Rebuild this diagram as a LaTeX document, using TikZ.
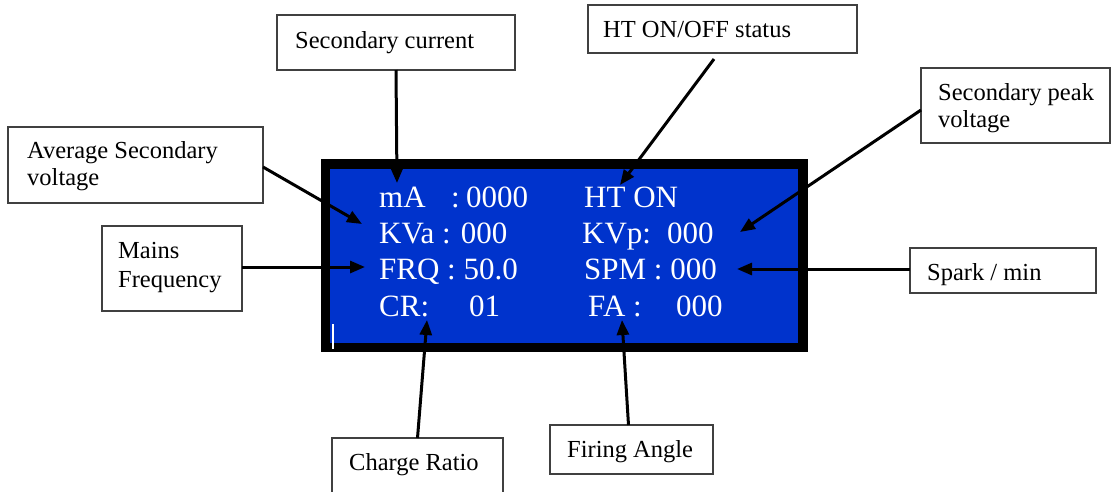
\documentclass[tikz,border=0pt]{standalone}
\usepackage{fontspec}
\setmainfont{Liberation Serif}
\usetikzlibrary{arrows.meta}
\definecolor{lcdblue}{RGB}{0,51,204}
\begin{document}
\begin{tikzpicture}[x=1pt,y=-1pt,
  lbox/.style={draw=black!75, line width=1.3pt, fill=white, inner sep=0pt, outer sep=0pt, anchor=north west},
  lbl/.style={anchor=base west, inner sep=0pt, align=left, font=\fontsize{24.5}{27}\selectfont},
  lcdtxt/.style={anchor=base west, inner sep=0pt, text=white, font=\fontsize{31}{36}\selectfont},
  arr/.style={line width=3pt, -{Triangle[length=15pt,width=12pt]}}]
\useasboundingbox (0,0) rectangle (1112,491);

% LCD
\node[draw=black, fill=lcdblue, line width=9.5pt, inner sep=0pt, outer sep=0pt, anchor=north west,
  minimum width=477.5pt, minimum height=183.5pt] (lcd) at (325.5,164) {};
\draw[white, line width=1.2pt] (333,324) -- (333,349);

\node[lcdtxt] (ma) at (379,207) {mA};
\node[lcdtxt] (mac) at (451,207) {:};
\node[lcdtxt] (mav) at (466,207) {0000};
\node[lcdtxt] (ht) at (584,207) {HT ON};
\node[lcdtxt] (kva) at (379,243) {KVa : 000};
\node[lcdtxt] (kvp) at (582,243) {KVp:};
\node[lcdtxt] (kvpv) at (667,243) {000};
\node[lcdtxt] (frq) at (379,279) {FRQ : 50.0};
\node[lcdtxt] (spm) at (584,279) {SPM : 000};
\node[lcdtxt] (cr) at (379,316) {CR:};
\node[lcdtxt] (crv) at (469,316) {01};
\node[lcdtxt] (fa) at (588,316) {FA :};
\node[lcdtxt] (fav) at (676,316) {000};

% label boxes
\node[lbox, minimum width=238pt, minimum height=55pt] (bsc) at (277,15) {};
\node[lbl] (tsc) at (295,48) {Secondary current};
\node[lbox, minimum width=269pt, minimum height=48pt] (bht) at (588,5) {};
\node[lbl] (tht) at (603,37) {HT ON/OFF status};
\node[lbox, minimum width=255pt, minimum height=76pt] (bav) at (8,127) {};
\node[lbl] (tav) at (27,185) {Average Secondary\\voltage};
\node[lbox, minimum width=140pt, minimum height=85pt] (bmf) at (102,226) {};
\node[lbl, font=\fontsize{24.5}{29}\selectfont] (tmf) at (118,287) {Mains\\Frequency};
\node[lbox, minimum width=189pt, minimum height=75pt] (bpk) at (921,68) {};
\node[lbl] (tpk) at (938,127) {Secondary peak\\voltage};
\node[lbox, minimum width=186pt, minimum height=45pt] (bsp) at (910,248) {};
\node[lbl] (tsp) at (927,280) {Spark / min};
\node[lbox, minimum width=171pt, minimum height=60pt] (bcr) at (332,438) {};
\node[lbl] (tcr) at (349,470) {Charge Ratio};
\node[lbox, minimum width=163pt, minimum height=49pt] (bfa) at (550,425) {};
\node[lbl] (tfa) at (567,457) {Firing Angle};

% arrow tips and free ends
\coordinate (pma) at (397,183);
\coordinate (hts) at (714,59);
\coordinate (pht) at (620,185);
\coordinate (pkva) at (362,224);
\coordinate (pfrq) at (365,267);
\coordinate (pkvp) at (740,232);
\coordinate (pspm) at (737,269);
\coordinate (pcr) at (427,320);
\coordinate (pfa) at (622,320);

\draw[arr] (bsc.south) -- (pma);
\draw[arr] (hts) -- (pht);
\draw[arr] ([yshift=-2pt]bav.east) -- (pkva);
\draw[arr] (bmf.east |- pfrq) -- (pfrq);
\draw[arr] ([yshift=-4.5pt]bpk.west) -- (pkvp);
\draw[arr] (bsp.west |- pspm) -- (pspm);
\draw[arr] (bcr.north) -- (pcr);
\draw[arr] ([xshift=-3pt]bfa.north) -- (pfa);
\end{tikzpicture}
\end{document}
